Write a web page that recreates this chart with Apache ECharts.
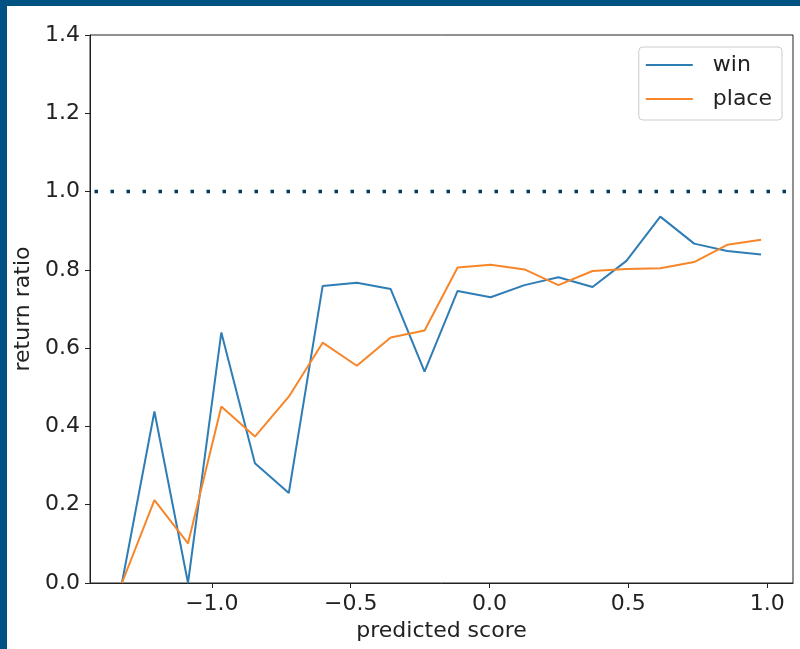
<!DOCTYPE html>
<html>
<head>
<meta charset="utf-8">
<script src="https://cdn.jsdelivr.net/npm/echarts@6/dist/echarts.min.js"></script>
<style>
html,body{margin:0;padding:0;background:#fff;}
#c{width:800px;height:649px;}
</style>
</head>
<body>
<div id="c"></div>
<script>
// predicted score (x) for each bin
const xs = [-1.324, -1.207, -1.086, -0.966, -0.845, -0.723, -0.601, -0.478, -0.356, -0.234,
            -0.115, 0.004, 0.126, 0.248, 0.371, 0.493, 0.615, 0.737, 0.856, 0.978];
// return ratio, win
const win = [0.0, 0.438, 0.0, 0.640, 0.306, 0.230, 0.759, 0.767, 0.751, 0.540,
             0.746, 0.730, 0.761, 0.781, 0.756, 0.823, 0.936, 0.867, 0.848, 0.839];
// return ratio, place
const place = [0.0, 0.212, 0.101, 0.451, 0.374, 0.476, 0.614, 0.555, 0.627, 0.645,
               0.806, 0.813, 0.801, 0.761, 0.797, 0.802, 0.804, 0.820, 0.864, 0.877];
const xTicks = [-1.0, -0.5, 0.0, 0.5, 1.0];
const xRange = [-1.439, 1.093];
const yRange = [0, 1.4];
const refLine = 1.0;
const seriesNames = ['win', 'place'];
const xLabel = 'predicted score';
const yLabel = 'return ratio';

const fmt = v => (v < 0 ? '\u2212' + Math.abs(v).toFixed(1) : v.toFixed(1));
const font = 'DejaVu Sans';
const fs = 22;

const chart = echarts.init(document.getElementById('c'), null, {renderer: 'canvas'});
chart.setOption({
  animation: false,
  backgroundColor: '#ffffff',
  textStyle: {fontFamily: font},
  graphic: [
    {type: 'rect', left: 0, top: 0, shape: {width: 800, height: 6}, style: {fill: '#005282'}, z: 100},
    {type: 'rect', left: 0, top: 0, shape: {width: 7, height: 649}, style: {fill: '#005282'}, z: 100}
  ],
  grid: {left: 90, right: 7, top: 35, bottom: 66, show: true, borderColor: '#222', borderWidth: 1, containLabel: false},
  legend: {
    orient: 'vertical',
    right: 18, top: 47,
    data: seriesNames.map(n => ({name: n, icon: 'rect'})),
    itemWidth: 47, itemHeight: 2, itemGap: 12,
    padding: [7, 10, 10, 7],
    borderColor: '#cccccc', borderWidth: 1, borderRadius: 4,
    backgroundColor: 'rgba(255,255,255,0.8)',
    textStyle: {fontSize: fs, color: '#222', fontFamily: font, padding: [0, 0, 0, 15]}
  },
  xAxis: {
    type: 'value', min: xRange[0], max: xRange[1],
    name: xLabel, nameLocation: 'middle', nameGap: 36,
    nameTextStyle: {fontSize: fs, color: '#222', fontFamily: font},
    axisLine: {show: true, onZero: false, lineStyle: {color: '#222', width: 1}},
    axisTick: {show: true, length: 5, customValues: xTicks, lineStyle: {color: '#222'}},
    axisLabel: {customValues: xTicks, formatter: fmt, fontSize: fs, color: '#222', margin: 10, fontFamily: font},
    splitLine: {show: false}
  },
  yAxis: {
    type: 'value', min: yRange[0], max: yRange[1], interval: 0.2,
    name: yLabel, nameLocation: 'middle', nameGap: 51,
    nameTextStyle: {fontSize: fs, color: '#222', fontFamily: font},
    axisLine: {show: true, onZero: false, lineStyle: {color: '#222', width: 1}},
    axisTick: {show: true, length: 5, lineStyle: {color: '#222'}},
    axisLabel: {formatter: v => v.toFixed(1), fontSize: fs, color: '#222', margin: 10, fontFamily: font},
    splitLine: {show: false}
  },
  series: [
    {
      name: 'ref', type: 'line', showSymbol: false, symbol: 'none', silent: true,
      data: [[xRange[0], refLine], [xRange[1], refLine]],
      lineStyle: {color: '#073a5a', width: 3.5, type: [3.5, 12.5], dashOffset: 11.5, cap: 'butt'},
      z: 1
    },
    {
      name: seriesNames[0], type: 'line', showSymbol: false, symbol: 'none',
      data: xs.map((x, i) => [x, win[i]]),
      lineStyle: {color: '#2f7db5', width: 2}, itemStyle: {color: '#2f7db5'}, z: 2
    },
    {
      name: seriesNames[1], type: 'line', showSymbol: false, symbol: 'none',
      data: xs.map((x, i) => [x, place[i]]),
      lineStyle: {color: '#f7862a', width: 2}, itemStyle: {color: '#f7862a'}, z: 3
    }
  ]
});
</script>
</body>
</html>
